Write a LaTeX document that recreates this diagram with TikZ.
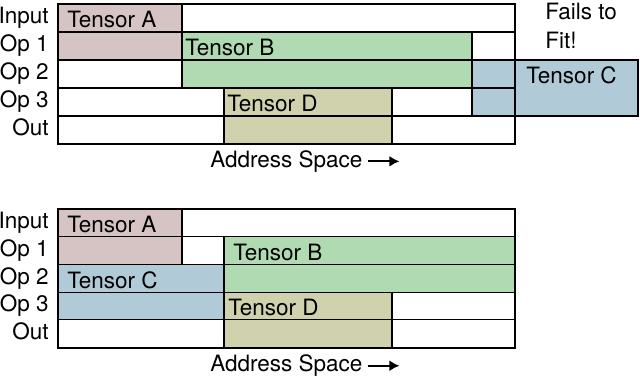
\documentclass[tikz,border=0pt]{standalone}
\usepackage{fontspec}
\setmainfont{TeX Gyre Heros}
\usetikzlibrary{arrows.meta}
\definecolor{tensorA}{RGB}{214,196,196}
\definecolor{tensorB}{RGB}{176,218,178}
\definecolor{tensorC}{RGB}{176,202,216}
\definecolor{tensorD}{RGB}{208,210,174}
\begin{document}
\begin{tikzpicture}[x=0.6pt, y=-0.6pt, >={Latex[length=6pt,width=6.5pt]},
    every node/.style={font=\fontsize{13.5}{17}\selectfont, inner sep=0pt},
    rowlabel/.style={anchor=base east},
    tlabel/.style={anchor=base west},
    block/.style={draw, line width=0.7pt},
    frame/.style={draw, line width=1.2pt},
    axis/.style={->, line width=1.3pt}]
    \useasboundingbox (0,0) rectangle (640,380);

    % first layout: Tensor C does not fit
    \draw[block, fill=tensorA] (58,4) rectangle (182,60);
    \draw[block, fill=tensorB] (182,32) rectangle (472,88);
    \draw[block, fill=tensorC] (472,60) rectangle (638,116);
    \draw[block, fill=tensorD] (224,88) rectangle (392,144);
    \draw[block] (58,32) -- (515,32) (58,60) -- (515,60) (58,88) -- (515,88) (58,116) -- (515,116);
    \draw[frame] (58,4) rectangle (515,144);

    \node[rowlabel] (inT) at (49,23.8) {Input};
    \node[rowlabel] (op1T) at (49,51.8) {Op 1};
    \node[rowlabel] (op2T) at (49,79.8) {Op 2};
    \node[rowlabel] (op3T) at (49,107.8) {Op 3};
    \node[rowlabel] (outT) at (49,135.8) {Out};

    \node[tlabel] (tAT) at (67,27.3) {Tensor A};
    \node[tlabel] (tBT) at (185,55.3) {Tensor B};
    \node[tlabel] (tCT) at (526,83.3) {Tensor C};
    \node[tlabel] (tDT) at (227,111.3) {Tensor D};
    \node[anchor=north west, align=left] (fails) at (545,3) {Fails to\\Fit!};

    \node[tlabel] (addrT) at (210,167.3) {Address Space};
    \coordinate (arrT) at ([xshift=22pt]addrT.east);
    \draw[axis] ([xshift=3pt]addrT.east) -- (arrT);

    % second layout: Tensor C placed low
    \draw[block, fill=tensorA] (58,209) rectangle (182,264.4);
    \draw[block, fill=tensorB] (224,236.7) rectangle (515,292.1);
    \draw[block, fill=tensorC] (58,264.4) rectangle (224,319.8);
    \draw[block, fill=tensorD] (224,292.1) rectangle (392,347.5);
    \draw[block] (58,236.7) -- (515,236.7) (58,264.4) -- (515,264.4) (58,292.1) -- (515,292.1) (58,319.8) -- (515,319.8);
    \draw[frame] (58,209) rectangle (515,347.5);

    \node[rowlabel] (inB) at (49,228.8) {Input};
    \node[rowlabel] (op1B) at (49,256.5) {Op 1};
    \node[rowlabel] (op2B) at (49,284.2) {Op 2};
    \node[rowlabel] (op3B) at (49,311.9) {Op 3};
    \node[rowlabel] (outB) at (49,339.6) {Out};

    \node[tlabel] (tAB) at (67,232.7) {Tensor A};
    \node[tlabel] (tBB) at (233,260.4) {Tensor B};
    \node[tlabel] (tCB) at (67,288.1) {Tensor C};
    \node[tlabel] (tDB) at (228,315.8) {Tensor D};

    \node[tlabel] (addrB) at (210,371.7) {Address Space};
    \coordinate (arrB) at ([xshift=22pt]addrB.east);
    \draw[axis] ([xshift=3pt]addrB.east) -- (arrB);
\end{tikzpicture}
\end{document}
